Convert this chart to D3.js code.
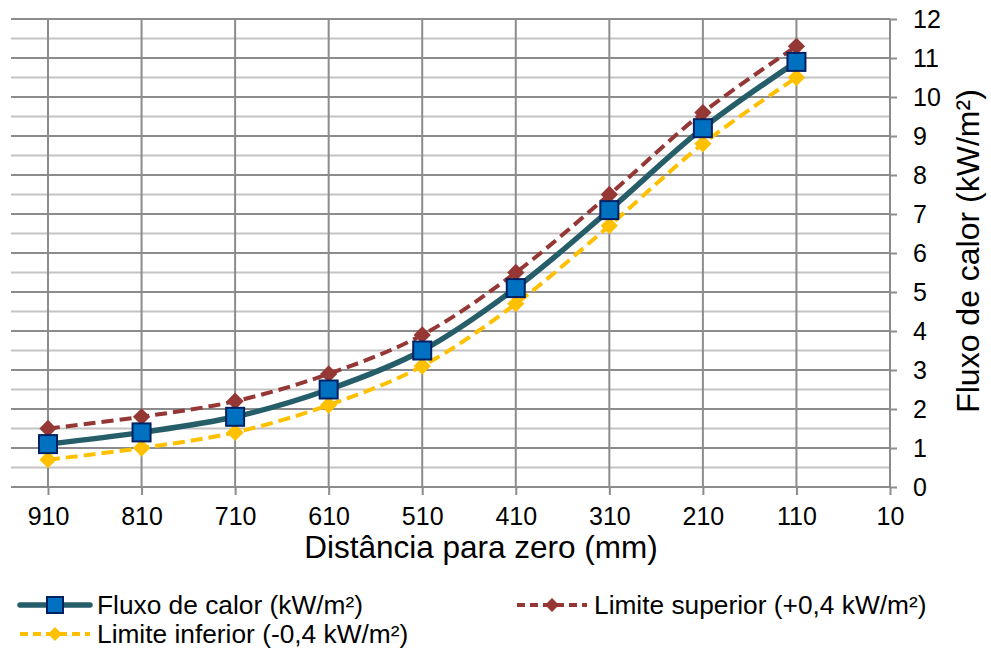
<!DOCTYPE html>
<html>
<head>
<meta charset="utf-8">
<script src="https://cdn.jsdelivr.net/npm/d3@7"></script>
<style>
  body { margin: 0; background: #fff; }
  text { font-family: "Liberation Sans", Arial, sans-serif; fill: #000; }
</style>
</head>
<body>
<svg id="chart" width="991" height="650"></svg>
<script>
const distances = [910, 810, 710, 610, 510, 410, 310, 210, 110];
const fluxo = [1.1, 1.4, 1.8, 2.5, 3.5, 5.1, 7.1, 9.2, 10.9];
const superior = [1.5, 1.8, 2.2, 2.9, 3.9, 5.5, 7.5, 9.6, 11.3];
const inferior = [0.7, 1.0, 1.4, 2.1, 3.1, 4.7, 6.7, 8.8, 10.5];
const xTicks = [910, 810, 710, 610, 510, 410, 310, 210, 110, 10];

const svg = d3.select('#chart');

const x = d3.scaleLinear().domain([910, 10]).range([48, 890]);
const y = d3.scaleLinear().domain([0, 12]).range([487, 19]);

// grid: minor at half units, major at units
const grid = svg.append('g');
grid.selectAll('.minor')
	.data(d3.range(0.5, 12, 1))
	.enter()
	.append('line')
	.attr('x1', 11).attr('x2', 890)
	.attr('y1', (d) => y(d)).attr('y2', (d) => y(d))
	.attr('stroke', '#c4c4c4').attr('stroke-width', 2);
grid.selectAll('.major')
	.data(d3.range(1, 13, 1))
	.enter()
	.append('line')
	.attr('x1', 11).attr('x2', 890)
	.attr('y1', (d) => y(d)).attr('y2', (d) => y(d))
	.attr('stroke', '#8c8c8c').attr('stroke-width', 2);
grid.selectAll('.vert')
	.data(distances)
	.enter()
	.append('line')
	.attr('x1', (d) => x(d)).attr('x2', (d) => x(d))
	.attr('y1', 19).attr('y2', 487)
	.attr('stroke', '#8c8c8c').attr('stroke-width', 2);

// x axis
const xAxis = d3.axisBottom(x).tickValues(xTicks).tickSize(8).tickPadding(12);
const gx = svg.append('g').attr('transform', 'translate(0,487)').call(xAxis);
gx.select('.domain').attr('d', 'M11,0H890').attr('stroke', '#8c8c8c').attr('stroke-width', 2);
gx.selectAll('.tick line').attr('stroke', '#8c8c8c').attr('stroke-width', 2);
gx.selectAll('.tick text').style('font-size', '25px').style('font-family', '"Liberation Sans", Arial, sans-serif').attr('fill', '#000');

// y axis on the right
const yAxis = d3.axisRight(y).tickValues(d3.range(0, 13)).tickSize(7).tickPadding(16);
const gy = svg.append('g').attr('transform', 'translate(890,0)').call(yAxis);
gy.select('.domain').attr('d', 'M0,19V487').attr('stroke', '#8c8c8c').attr('stroke-width', 2);
gy.selectAll('.tick line').attr('stroke', '#8c8c8c').attr('stroke-width', 2);
gy.selectAll('.tick text').style('font-size', '25px').style('font-family', '"Liberation Sans", Arial, sans-serif').attr('fill', '#000');

// titles
svg.append('text')
	.attr('x', 481).attr('y', 558)
	.attr('text-anchor', 'middle')
	.style('font-size', '31.5px')
	.text('Distância para zero (mm)');
svg.append('text')
	.attr('transform', 'translate(979,251) rotate(-90)')
	.attr('text-anchor', 'middle')
	.style('font-size', '32px')
	.text('Fluxo de calor (kW/m²)');

const line = d3.line()
	.x((d, i) => x(distances[i]))
	.y((d) => y(d))
	.curve(d3.curveCatmullRom.alpha(0.5));

const diamond = d3.symbol().type(d3.symbolDiamond2).size(190);
const smallDiamond = d3.symbol().type(d3.symbolDiamond2).size(125);

function drawSeries(values, color, width, dash) {
	svg.append('path')
		.attr('d', line(values))
		.attr('fill', 'none')
		.attr('stroke', color)
		.attr('stroke-width', width)
		.attr('stroke-dasharray', dash);
}

drawSeries(superior, '#953735', 4, '12,6');
drawSeries(inferior, '#FFC000', 4, '12,6');
drawSeries(fluxo, '#255E69', 5.5, null);

svg.append('g').selectAll('path')
	.data(superior)
	.enter()
	.append('path')
	.attr('d', diamond)
	.attr('transform', (d, i) => 'translate(' + x(distances[i]) + ',' + y(d) + ')')
	.attr('fill', '#953735');
svg.append('g').selectAll('path')
	.data(inferior)
	.enter()
	.append('path')
	.attr('d', diamond)
	.attr('transform', (d, i) => 'translate(' + x(distances[i]) + ',' + y(d) + ')')
	.attr('fill', '#FFC000');
svg.append('g').selectAll('rect')
	.data(fluxo)
	.enter()
	.append('rect')
	.attr('x', (d, i) => x(distances[i]) - 9)
	.attr('y', (d) => y(d) - 9)
	.attr('width', 18).attr('height', 18)
	.attr('fill', '#0070C0')
	.attr('stroke', '#002060')
	.attr('stroke-width', 2);

// legend
const legendItems = [
	{ label: 'Fluxo de calor (kW/m²)', color: '#255E69', dash: null, width: 5.5, marker: 'square', lx: 20, ly: 605 },
	{ label: 'Limite superior (+0,4 kW/m²)', color: '#953735', dash: '8,5', width: 4, marker: 'diamond', lx: 517, ly: 605 },
	{ label: 'Limite inferior (-0,4 kW/m²)', color: '#FFC000', dash: '8,5', width: 4, marker: 'diamond', lx: 20, ly: 634 },
];
const legend = svg.append('g');
legendItems.forEach((item) => {
	const g = legend.append('g').attr('transform', 'translate(' + item.lx + ',' + item.ly + ')');
	g.append('line')
		.attr('x1', 0).attr('x2', 70).attr('y1', 0).attr('y2', 0)
		.attr('stroke', item.color)
		.attr('stroke-width', item.width)
		.attr('stroke-linecap', item.dash ? 'butt' : 'round')
		.attr('stroke-dasharray', item.dash);
	if (item.marker === 'square') {
		g.append('rect')
			.attr('x', 27).attr('y', -8).attr('width', 16).attr('height', 16)
			.attr('fill', '#0070C0').attr('stroke', '#002060').attr('stroke-width', 2);
	} else {
		g.append('path')
			.attr('d', smallDiamond)
			.attr('transform', 'translate(35,0)')
			.attr('fill', item.color);
	}
	g.append('text')
		.attr('x', 77).attr('y', 9)
		.style('font-size', '26.3px')
		.text(item.label);
});
</script>
</body>
</html>
